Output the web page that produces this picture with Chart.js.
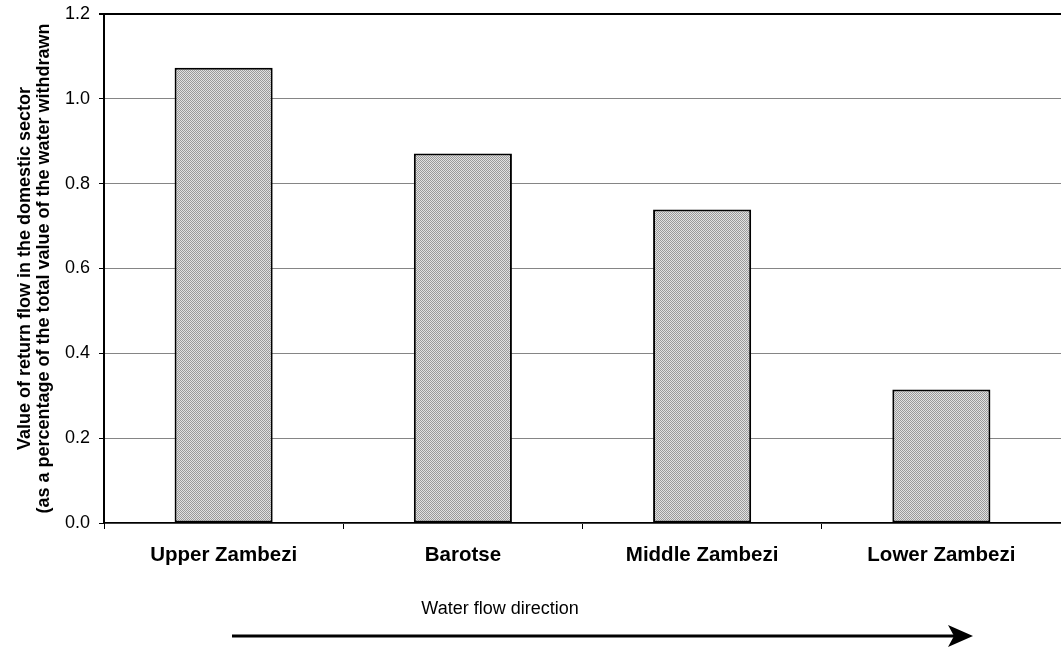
<!DOCTYPE html>
<html>
<head>
<meta charset="utf-8">
<script src="https://cdn.jsdelivr.net/npm/chart.js@4.4.1/dist/chart.umd.min.js"></script>
<style>
  html, body { margin: 0; padding: 0; background: #fff; }
  #wrap { width: 1061px; height: 648px; position: relative; }
</style>
</head>
<body>
<div id="wrap"><canvas id="chart" width="1061" height="648"></canvas></div>
<script>
// Chart data
const regions = ['Upper Zambezi', 'Barotse', 'Middle Zambezi', 'Lower Zambezi'];
const returnFlow = [1.073, 0.871, 0.739, 0.315];
const yTitle = ['Value of return flow in the domestic sector',
                '(as a percentage of the total value of the water withdrawn'];
const flowLabel = 'Water flow direction';

// Dithered grey fill like the original print
function makePattern() {
    const p = document.createElement('canvas');
    p.width = 2; p.height = 2;
    const c = p.getContext('2d');
    c.fillStyle = '#e2e2e2';
    c.fillRect(0, 0, 2, 2);
    c.fillStyle = '#9a9a9a';
    c.fillRect(0, 0, 1, 1);
    c.fillRect(1, 1, 1, 1);
    return c.createPattern(p, 'repeat');
}

// Draws the "Water flow direction" caption and arrow under the axis
const flowArrow = {
    id: 'flowArrow',
    afterDraw(chart) {
        const ctx = chart.ctx;
        ctx.save();
        ctx.fillStyle = '#000';
        ctx.font = '18px "Liberation Sans", Arial, sans-serif';
        ctx.textAlign = 'center';
        ctx.textBaseline = 'middle';
        ctx.fillText(flowLabel, 500, 609);

        ctx.strokeStyle = '#000';
        ctx.lineWidth = 3;
        ctx.beginPath();
        ctx.moveTo(232, 636);
        ctx.lineTo(955, 636);
        ctx.stroke();
        ctx.beginPath();
        ctx.moveTo(973, 636);
        ctx.lineTo(948, 625);
        ctx.lineTo(954, 636);
        ctx.lineTo(948, 647);
        ctx.closePath();
        ctx.fill();
        ctx.restore();
    }
};

const ctx = document.getElementById('chart').getContext('2d');
new Chart(ctx, {
    type: 'bar',
    data: {
        labels: regions,
        datasets: [{
            data: returnFlow,
            backgroundColor: makePattern(),
            borderColor: '#000',
            borderWidth: 2,
            borderSkipped: false,
            barPercentage: 0.41,
            categoryPercentage: 1
        }]
    },
    options: {
        responsive: false,
        animation: false,
        devicePixelRatio: 1,
        layout: { padding: { top: 14, right: 0, left: 0, bottom: 0 } },
        plugins: {
            legend: { display: false },
            tooltip: { enabled: false }
        },
        scales: {
            x: {
                offset: true,
                grid: {
                    offset: true,
                    drawOnChartArea: false,
                    color: '#000',
                    tickLength: 6
                },
                border: { color: '#000', width: 1.5 },
                ticks: {
                    color: '#000',
                    padding: 14,
                    maxRotation: 0,
                    font: { family: '"Liberation Sans", Arial, sans-serif', size: 20.5, weight: 'bold' }
                },
                afterFit(scale) {
                    scale.height = 125;
                    scale.paddingLeft = 0;
                    scale.paddingRight = 0;
                }
            },
            y: {
                min: 0,
                max: 1.2,
                ticks: {
                    stepSize: 0.2,
                    color: '#000',
                    padding: 9,
                    callback: v => v.toFixed(1),
                    font: { family: '"Liberation Sans", Arial, sans-serif', size: 18 }
                },
                grid: {
                    color: c => (c.tick && Math.abs(c.tick.value - 1.2) < 1e-6) ? '#000' : '#858585',
                    lineWidth: c => (c.tick && Math.abs(c.tick.value - 1.2) < 1e-6) ? 2 : 1,
                    tickLength: 5,
                    tickColor: '#000'
                },
                border: { color: '#000', width: 2 },
                title: {
                    display: true,
                    text: yTitle,
                    color: '#000',
                    padding: { top: 16, bottom: 0 },
                    font: { family: '"Liberation Sans", Arial, sans-serif', size: 18, weight: 'bold', lineHeight: 1.05 }
                },
                afterFit(scale) {
                    scale.width = 104;
                    scale.paddingTop = 0;
                    scale.paddingBottom = 0;
                }
            }
        }
    },
    plugins: [flowArrow]
});
</script>
</body>
</html>
